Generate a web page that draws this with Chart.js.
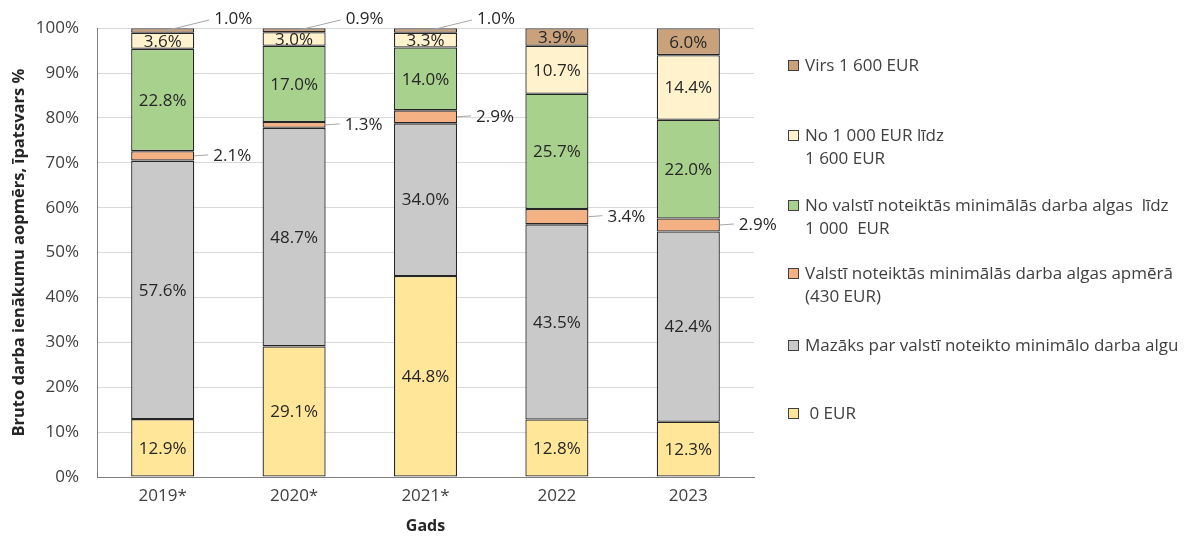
<!DOCTYPE html>
<html>
<head>
<meta charset="utf-8">
<script src="https://cdn.jsdelivr.net/npm/chart.js@4.4.0/dist/chart.umd.min.js"></script>
<style>
  html, body { margin: 0; padding: 0; background: #fff; }
  #wrap { position: relative; width: 1186px; height: 540px; }
  #legend { position: absolute; left: 788px; top: 0; font-family: "Open Sans", sans-serif; font-size: 17px; color: #404040; }
  .item { position: absolute; left: 0; white-space: nowrap; line-height: 23px; }
  .item .box { position: absolute; left: 0; top: 6px; width: 9px; height: 9px; border: 1px solid #404040; }
  .item .txt { position: absolute; left: 17px; top: -1px; }
</style>
</head>
<body>
<div id="wrap">
  <canvas id="myChart" width="1186" height="540"></canvas>
  <div id="legend"></div>
</div>
<script>
// categories and series (percent of total)
const years = ['2019*', '2020*', '2021*', '2022', '2023'];
const zeroEur = [12.9, 29.1, 44.8, 12.8, 12.3];
const belowMin = [57.6, 48.7, 34.0, 43.5, 42.4];
const atMin = [2.1, 1.3, 2.9, 3.4, 2.9];
const minTo1000 = [22.8, 17.0, 14.0, 25.7, 22.0];
const from1000to1600 = [3.6, 3.0, 3.3, 10.7, 14.4];
const over1600 = [1.0, 0.9, 1.0, 3.9, 6.0];
const yTicks = [0, 10, 20, 30, 40, 50, 60, 70, 80, 90, 100];

const seriesNames = [
    '0 EUR',
    'Mazāks par valstī noteikto minimālo darba algu',
    'Valstī noteiktās minimālās darba algas apmērā (430 EUR)',
    'No valstī noteiktās minimālās darba algas  līdz 1 000  EUR',
    'No 1 000 EUR līdz 1 600 EUR',
    'Virs 1 600 EUR'
];
const seriesColors = ['#FFE699', '#C9C9C9', '#F4B183', '#A9D18E', '#FFF2CC', '#C9A27C'];
const seriesData = [zeroEur, belowMin, atMin, minTo1000, from1000to1600, over1600];

// legend text split into lines as in the original
const legendItems = [
    { ds: 5, lines: ['Virs 1 600 EUR'], top: 54 },
    { ds: 4, lines: ['No 1 000 EUR līdz', '1 600 EUR'], top: 124 },
    { ds: 3, lines: ['No valstī noteiktās minimālās darba algas  līdz', '1 000  EUR'], top: 194 },
    { ds: 2, lines: ['Valstī noteiktās minimālās darba algas apmērā', '(430 EUR)'], top: 262 },
    { ds: 1, lines: ['Mazāks par valstī noteikto minimālo darba algu'], top: 334 },
    { ds: 0, lines: ['\u00a00 EUR'], top: 402 }
];

function buildLegend() {
    const el = document.getElementById('legend');
    legendItems.forEach(item => {
        const div = document.createElement('div');
        div.className = 'item';
        div.style.top = item.top + 'px';
        div.innerHTML = '<span class="box" style="background:' + seriesColors[item.ds] + '"></span>' +
            '<span class="txt">' + item.lines.join('<br>').replace(/  /g, ' &nbsp;') + '</span>';
        el.appendChild(div);
    });
}

// draws the value labels; small segments get an outside label with a leader line
const valueLabels = {
    id: 'valueLabels',
    afterDatasetsDraw(chart) {
        const ctx = chart.ctx;
        ctx.save();
        ctx.font = '17px "Open Sans", sans-serif';
        ctx.fillStyle = '#262626';
        ctx.textBaseline = 'middle';
        chart.data.datasets.forEach((ds, di) => {
            const meta = chart.getDatasetMeta(di);
            meta.data.forEach((bar, i) => {
                const v = ds.data[i];
                const txt = v.toFixed(1) + '%';
                const right = bar.x + bar.width / 2;
                const cy = (bar.y + bar.base) / 2;
                if (di === 2) {
                    ctx.strokeStyle = '#A6A6A6';
                    ctx.lineWidth = 1;
                    ctx.beginPath();
                    ctx.moveTo(right, cy);
                    ctx.lineTo(right + 14, cy - 1);
                    ctx.stroke();
                    ctx.textAlign = 'left';
                    ctx.fillText(txt, right + 19, cy);
                } else if (di === 5 && v < 2) {
                    ctx.strokeStyle = '#A6A6A6';
                    ctx.lineWidth = 1;
                    ctx.beginPath();
                    ctx.moveTo(bar.x + 4, cy);
                    ctx.lineTo(right + 15, 20);
                    ctx.stroke();
                    ctx.textAlign = 'left';
                    ctx.fillText(txt, right + 20, 19);
                } else {
                    ctx.textAlign = 'center';
                    ctx.fillText(txt, bar.x, cy + 1);
                }
            });
        });
        ctx.restore();
    }
};

function populateChart() {
    const ctx = document.getElementById('myChart').getContext('2d');
    return new Chart(ctx, {
        type: 'bar',
        data: {
            labels: years,
            datasets: seriesData.map((d, i) => ({
                label: seriesNames[i],
                data: d,
                backgroundColor: seriesColors[i],
                borderColor: '#262626',
                borderWidth: 1.3,
                borderSkipped: false,
                inflateAmount: 0,
                barPercentage: 0.48,
                categoryPercentage: 1
            }))
        },
        options: {
            responsive: false,
            animation: false,
            layout: { padding: { top: 28, right: 432, left: 0, bottom: 0 } },
            plugins: {
                legend: { display: false },
                tooltip: { enabled: false }
            },
            scales: {
                x: {
                    stacked: true,
                    grid: { display: false, drawTicks: false },
                    border: { color: '#7F7F7F' },
                    ticks: { color: '#404040', font: { family: 'Open Sans', size: 17 }, padding: 9 },
                    title: { display: true, text: 'Gads', color: '#262626', font: { family: 'Open Sans', size: 16, weight: 'bold' }, padding: { top: 10 } },
                    afterFit(scale) { scale.height = 63; }
                },
                y: {
                    stacked: true,
                    min: 0,
                    max: 100,
                    afterBuildTicks(scale) { scale.ticks = yTicks.map(v => ({ value: v })); },
                    grid: { color: '#D9D9D9', drawTicks: false },
                    border: { color: '#7F7F7F' },
                    ticks: { color: '#404040', font: { family: 'Open Sans', size: 17 }, padding: 18, callback: v => v + '%' },
                    title: { display: true, text: 'Bruto darba ienākumu aopmērs, īpatsvars %', color: '#262626', font: { family: 'Open Sans', size: 16.5, weight: 'bold' }, padding: { top: 9, bottom: 0 } },
                    afterFit(scale) { scale.width = 97; }
                }
            }
        },
        plugins: [valueLabels]
    });
}

buildLegend();
populateChart();
</script>
</body>
</html>
